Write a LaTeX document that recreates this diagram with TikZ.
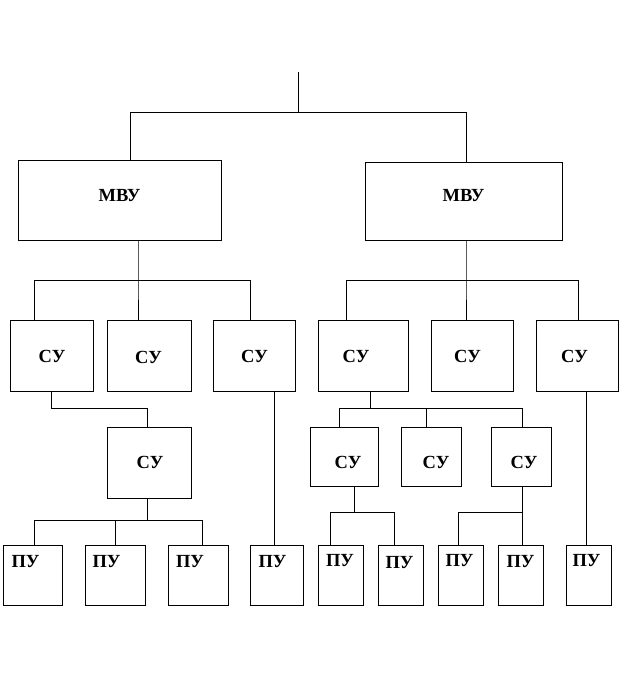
\documentclass[tikz,border=0pt]{standalone}
\usepackage{fontspec}
\setmainfont{Liberation Serif}
\begin{document}
\begin{tikzpicture}[x=1pt,y=-1pt,line width=0.9pt,
  box/.style={draw,inner sep=0pt,minimum width=#1},
  lbl/.style={font=\fontsize{18.5}{18.5}\selectfont\bfseries,inner sep=0pt}]
\useasboundingbox (0,0) rectangle (622,688);
% boxes
\node[box=203pt,minimum height=80pt] (m1) at (119.5,200) {};
\node[box=197pt,minimum height=78pt] (m2) at (463.5,201) {};
\node[box=83pt,minimum height=71pt] (s1) at (51.5,355.5) {};
\node[box=84pt,minimum height=71pt] (s2) at (149,355.5) {};
\node[box=82pt,minimum height=71pt] (s3) at (254,355.5) {};
\node[box=90pt,minimum height=71pt] (s5) at (363,355.5) {};
\node[box=82pt,minimum height=71pt] (s6) at (472,355.5) {};
\node[box=82pt,minimum height=71pt] (s7) at (577,355.5) {};
\node[box=84pt,minimum height=71pt] (s4) at (149,462.5) {};
\node[box=68pt,minimum height=59pt] (s8) at (344,456.5) {};
\node[box=60pt,minimum height=59pt] (s9) at (431,456.5) {};
\node[box=60pt,minimum height=59pt] (s10) at (521,456.5) {};
\node[box=59pt,minimum height=60pt] (p1) at (32.5,575) {};
\node[box=60pt,minimum height=60pt] (p2) at (115,575) {};
\node[box=60pt,minimum height=60pt] (p3) at (198,575) {};
\node[box=53pt,minimum height=60pt] (p4) at (276.5,575) {};
\node[box=45pt,minimum height=60pt] (p5) at (340.5,575) {};
\node[box=45pt,minimum height=60pt] (p6) at (400.5,575) {};
\node[box=45pt,minimum height=60pt] (p7) at (460.5,575) {};
\node[box=45pt,minimum height=60pt] (p8) at (520.5,575) {};
\node[box=45pt,minimum height=60pt] (p9) at (588.5,575) {};
% labels
\node[lbl] (m1t) at (119.5,196) {МВУ};
\node[lbl] (m2t) at (463.5,196) {МВУ};
\node[lbl] (s1t) at (52,356) {СУ};
\node[lbl] (s2t) at (148.5,357) {СУ};
\node[lbl] (s3t) at (254.5,356) {СУ};
\node[lbl] (s5t) at (356,356) {СУ};
\node[lbl] (s6t) at (467.5,356) {СУ};
\node[lbl] (s7t) at (574.5,356) {СУ};
\node[lbl] (s4t) at (150,462) {СУ};
\node[lbl] (s8t) at (348,462) {СУ};
\node[lbl] (s9t) at (436,462) {СУ};
\node[lbl] (s10t) at (524,462) {СУ};
\node[lbl] (p1t) at (25.5,562) {ПУ};
\node[lbl] (p2t) at (106.5,562) {ПУ};
\node[lbl] (p3t) at (190,562) {ПУ};
\node[lbl] (p4t) at (272.5,562) {ПУ};
\node[lbl] (p5t) at (340,561) {ПУ};
\node[lbl] (p6t) at (399.5,563) {ПУ};
\node[lbl] (p7t) at (459.5,561) {ПУ};
\node[lbl] (p8t) at (520.5,562) {ПУ};
\node[lbl] (p9t) at (586.5,561) {ПУ};
% junctions
\coordinate (t) at (298,72);
\coordinate (a1) at (130,112); \coordinate (a2) at (466,112);
\coordinate (b0) at (138,280); \coordinate (b1) at (34,280); \coordinate (b3) at (250,280);
\coordinate (c0) at (466,280); \coordinate (c1) at (346,280); \coordinate (c3) at (578,280);
\coordinate (d1) at (51,408); \coordinate (d2) at (147,408);
\coordinate (e) at (274,400);
\coordinate (f0) at (147,520); \coordinate (f1) at (34,520); \coordinate (f2) at (115,520); \coordinate (f3) at (202,520);
\coordinate (g0) at (370,408); \coordinate (g1) at (339,408); \coordinate (g2) at (426,408); \coordinate (g3) at (522,408);
\coordinate (h) at (586,500);
\coordinate (k0) at (354,512); \coordinate (k1) at (330,512); \coordinate (k2) at (394,512);
\coordinate (l0) at (522,512); \coordinate (l1) at (458,512);
% connectors
\draw (t) -- (t |- a1);
\draw (m1.north -| a1) -- (a1) -- (a2) -- (m2.north -| a2);
\draw (m1.south -| b0) -- (b0) -- (s2.north -| b0);
\draw (s1.north -| b1) -- (b1) -- (b3) -- (s3.north -| b3);
\draw (m2.south -| c0) -- (c0) -- (s6.north -| c0);
\draw (s5.north -| c1) -- (c1) -- (c3) -- (s7.north -| c3);
\draw (s1.south -| d1) -- (d1) -- (d2) -- (s4.north -| d2);
\draw (s3.south -| e) -- (p4.north -| e);
\draw (s4.south -| f0) -- (f0);
\draw (p1.north -| f1) -- (f1) -- (f3) -- (p3.north -| f3);
\draw (f2) -- (p2.north -| f2);
\draw (s5.south -| g0) -- (g0);
\draw (s8.north -| g1) -- (g1) -- (g3) -- (s10.north -| g3);
\draw (g2) -- (s9.north -| g2);
\draw (s7.south -| h) -- (p9.north -| h);
\draw (s8.south -| k0) -- (k0);
\draw (p5.north -| k1) -- (k1) -- (k2) -- (p6.north -| k2);
\draw (s10.south -| l0) -- (p8.north -| l0);
\draw (l0) -- (l1) -- (p7.north -| l1);
\end{tikzpicture}
\end{document}
